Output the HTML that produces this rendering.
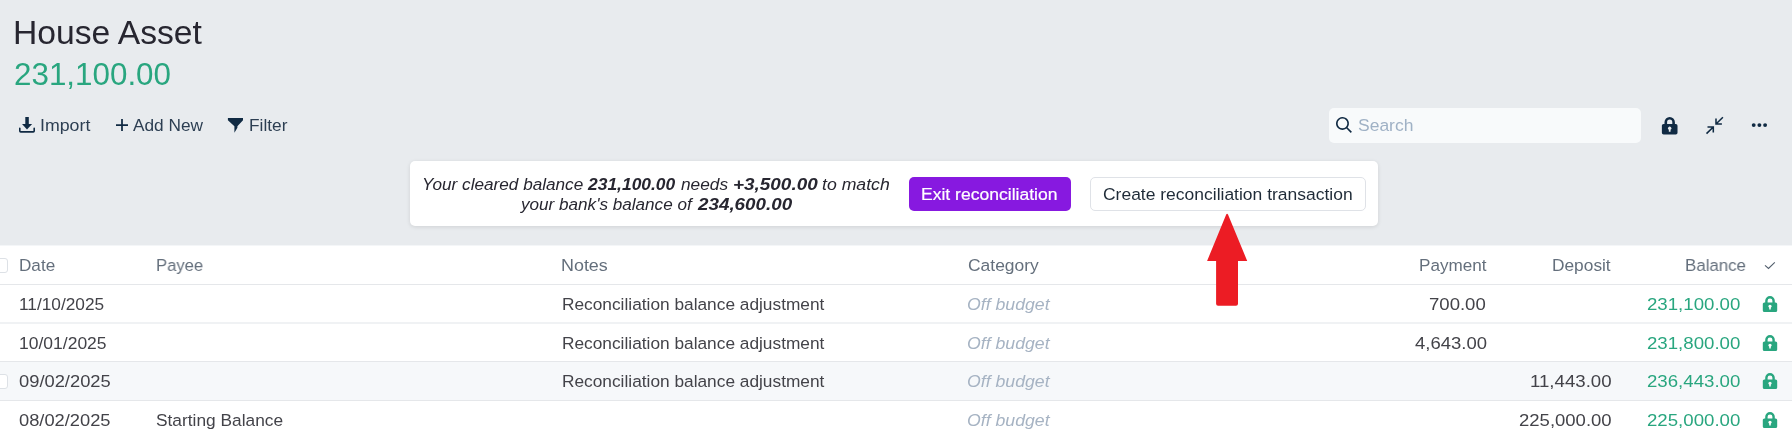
<!DOCTYPE html>
<html><head><meta charset="utf-8"><title>House Asset</title>
<style>
html,body{margin:0;padding:0;}
body{width:1792px;height:439px;overflow:hidden;background:#e8ebee;position:relative;font-family:"Liberation Sans",sans-serif;}
.a{position:absolute;}
.t{position:absolute;white-space:nowrap;transform-origin:0 0;will-change:transform;}
svg{position:absolute;overflow:visible;}
</style></head><body>
<!-- search box -->
<div class="a" style="left:1329px;top:108px;width:312px;height:35px;background:#f8fafb;border-radius:5px;"></div>
<!-- banner -->
<div class="a" style="left:410px;top:161px;width:968px;height:65px;background:#ffffff;border-radius:5px;box-shadow:0 1px 4px rgba(0,0,0,0.11);"></div>
<div class="a" style="left:909px;top:177px;width:162px;height:34px;background:#8719e0;border-radius:5px;"></div>
<div class="a" style="left:1090px;top:177px;width:274px;height:32px;background:#fff;border:1px solid #dfe2e7;border-radius:5px;"></div>
<!-- table -->
<div class="a" style="left:0;top:246px;width:1792px;height:193px;background:#ffffff;"></div>
<div class="a" style="left:0;top:245px;width:1792px;height:1px;background:#f4f6f8;"></div>
<div class="a" style="left:0;top:362px;width:1792px;height:38px;background:#f6f8fa;"></div>
<div class="a" style="left:0;top:284px;width:1792px;height:1px;background:#e5e7ea;"></div>
<div class="a" style="left:0;top:322px;width:1792px;height:2px;background:#f0f2f4;"></div>
<div class="a" style="left:0;top:361px;width:1792px;height:1px;background:#e5e7ea;"></div>
<div class="a" style="left:0;top:400px;width:1792px;height:1px;background:#e5e7ea;"></div>
<!-- checkboxes -->
<div class="a" style="left:-7px;top:258px;width:13px;height:13px;border:1px solid #dde1e6;border-radius:3px;background:#fff;"></div>
<div class="a" style="left:-7px;top:374px;width:13px;height:13px;border:1px solid #dde1e6;border-radius:3px;background:#fff;"></div>

<!-- import icon -->
<svg style="left:19px;top:117px" width="17" height="17" viewBox="0 0 17 17">
  <rect x="6.3" y="0" width="3.5" height="8" fill="#102a43"/>
  <polygon points="3,7 13.1,7 8,12.5" fill="#102a43"/>
  <path d="M0.8,11.3 V14 Q0.8,14.9 1.7,14.9 H14.3 Q15.2,14.9 15.2,14 V11.3" fill="none" stroke="#102a43" stroke-width="1.6" stroke-linecap="round"/>
</svg>
<!-- plus -->
<svg style="left:115px;top:118px" width="14" height="14" viewBox="0 0 14 14">
  <path d="M7,1 V13 M1,7 H13" stroke="#102a43" stroke-width="1.75"/>
</svg>
<!-- filter -->
<svg style="left:222px;top:112px" width="26" height="26" viewBox="0 0 26 26">
  <path d="M5.9,5.9 H21 V8.3 L15.4,14.2 V15.7 L12.4,20.7 V14.2 L5.9,8.3 Z" fill="#102a43"/>
</svg>
<!-- search icon -->
<svg style="left:1335.9px;top:117px" width="16.2" height="16.2" viewBox="0 0 20 20">
  <path d="M12.9 14.32a8 8 0 1 1 1.41-1.41l5.35 5.33-1.42 1.42-5.330-5.34zM8 14A6 6 0 1 0 8 2a6 6 0 0 0 0 12z" fill="#102a43"/>
</svg>
<!-- lock toolbar -->
<svg style="left:1660.9px;top:116.8px" width="17.4" height="17.4" viewBox="0 0 20 20">
  <path d="M4 8V6a6 6 0 1 1 12 0v2h1a2 2 0 0 1 2 2v8a2 2 0 0 1-2 2H3a2 2 0 0 1-2-2v-8c0-1.1.9-2 2-2h1zm5 6.73V17h2v-2.270a2 2 0 1 0-2 0zM7 6v2h6V6a3 3 0 0 0-6 0z" fill="#102a43"/>
</svg>
<!-- shrink icon -->
<svg style="left:1700px;top:110px" width="30" height="30" viewBox="0 0 30 30">
  <path d="M22.9,7.2 L16,14 M16,8.5 V14 H21.9 M6.5,23.6 L13.3,17 M7.5,17 H13.3 V22.6" fill="none" stroke="#102a43" stroke-width="1.55"/>
</svg>
<!-- dots -->
<svg style="left:1745px;top:115px" width="30" height="20" viewBox="0 0 30 20">
  <circle cx="8.7" cy="10.1" r="1.95" fill="#102a43"/><circle cx="14.4" cy="10.1" r="1.95" fill="#102a43"/><circle cx="20.1" cy="10.1" r="1.95" fill="#102a43"/>
</svg>
<!-- header check -->
<svg style="left:1758px;top:255px" width="24" height="22" viewBox="0 0 24 22">
  <path d="M7,10.3 L10.5,13.5 L16.8,7.3" fill="none" stroke="#535f6d" stroke-width="1.1"/>
</svg>
<!-- row locks -->
<svg style="left:1762.2px;top:295.8px" width="16" height="16" viewBox="0 0 20 20"><path d="M4 8V6a6 6 0 1 1 12 0v2h1a2 2 0 0 1 2 2v8a2 2 0 0 1-2 2H3a2 2 0 0 1-2-2v-8c0-1.1.9-2 2-2h1zm5 6.73V17h2v-2.270a2 2 0 1 0-2 0zM7 6v2h6V6a3 3 0 0 0-6 0z" fill="#29a67f"/></svg>
<svg style="left:1762.2px;top:334.5px" width="16" height="16" viewBox="0 0 20 20"><path d="M4 8V6a6 6 0 1 1 12 0v2h1a2 2 0 0 1 2 2v8a2 2 0 0 1-2 2H3a2 2 0 0 1-2-2v-8c0-1.1.9-2 2-2h1zm5 6.73V17h2v-2.270a2 2 0 1 0-2 0zM7 6v2h6V6a3 3 0 0 0-6 0z" fill="#29a67f"/></svg>
<svg style="left:1762.2px;top:373.2px" width="16" height="16" viewBox="0 0 20 20"><path d="M4 8V6a6 6 0 1 1 12 0v2h1a2 2 0 0 1 2 2v8a2 2 0 0 1-2 2H3a2 2 0 0 1-2-2v-8c0-1.1.9-2 2-2h1zm5 6.73V17h2v-2.270a2 2 0 1 0-2 0zM7 6v2h6V6a3 3 0 0 0-6 0z" fill="#29a67f"/></svg>
<svg style="left:1762.2px;top:412px" width="16" height="16" viewBox="0 0 20 20"><path d="M4 8V6a6 6 0 1 1 12 0v2h1a2 2 0 0 1 2 2v8a2 2 0 0 1-2 2H3a2 2 0 0 1-2-2v-8c0-1.1.9-2 2-2h1zm5 6.73V17h2v-2.270a2 2 0 1 0-2 0zM7 6v2h6V6a3 3 0 0 0-6 0z" fill="#29a67f"/></svg>

<div class="t" id="t0" style="left:12.58px;top:14.00px;font-size:32.6px;line-height:37px;color:#272630;font-weight:400;font-style:normal;transform:scaleX(1.0330);">House Asset</div>
<div class="t" id="t1" style="left:14.39px;top:57.00px;font-size:30.8px;line-height:35px;color:#29a67f;font-weight:400;font-style:normal;transform:scaleX(1.0187);">231,100.00</div>
<div class="t" id="t2" style="left:39.92px;top:116.00px;font-size:17.1px;line-height:19px;color:#2c3e52;font-weight:400;font-style:normal;transform:scaleX(1.0386);">Import</div>
<div class="t" id="t3" style="left:132.93px;top:116.00px;font-size:17.1px;line-height:19px;color:#2c3e52;font-weight:400;font-style:normal;transform:scaleX(1.0102);">Add New</div>
<div class="t" id="t4" style="left:248.98px;top:116.00px;font-size:17.1px;line-height:19px;color:#2c3e52;font-weight:400;font-style:normal;transform:scaleX(1.0112);">Filter</div>
<div class="t" id="t5" style="left:1358.09px;top:116.00px;font-size:17.1px;line-height:19px;color:#9fb1c5;font-weight:400;font-style:normal;transform:scaleX(1.0224);">Search</div>
<div class="t" id="t6" style="left:921.18px;top:185.00px;font-size:17.1px;line-height:19px;color:#ffffff;font-weight:400;font-style:normal;transform:scaleX(1.0261);-webkit-text-stroke:0.2px #fff;">Exit reconciliation</div>
<div class="t" id="t7" style="left:1103.13px;top:185.00px;font-size:17.1px;line-height:19px;color:#1f2b38;font-weight:400;font-style:normal;transform:scaleX(1.0222);">Create reconciliation transaction</div>
<div class="t" id="t8" style="left:19.22px;top:256.00px;font-size:17.1px;line-height:19px;color:#646f7c;font-weight:400;font-style:normal;transform:scaleX(1.0018);">Date</div>
<div class="t" id="t9" style="left:155.67px;top:256.00px;font-size:17.1px;line-height:19px;color:#646f7c;font-weight:400;font-style:normal;transform:scaleX(0.9709);">Payee</div>
<div class="t" id="t10" style="left:561.27px;top:256.00px;font-size:17.1px;line-height:19px;color:#646f7c;font-weight:400;font-style:normal;transform:scaleX(1.0476);">Notes</div>
<div class="t" id="t11" style="left:967.56px;top:256.00px;font-size:17.1px;line-height:19px;color:#646f7c;font-weight:400;font-style:normal;transform:scaleX(1.0201);">Category</div>
<div class="t" id="t12" style="left:1418.64px;top:256.00px;font-size:17.1px;line-height:19px;color:#646f7c;font-weight:400;font-style:normal;transform:scaleX(0.9944);">Payment</div>
<div class="t" id="t13" style="left:1551.96px;top:256.00px;font-size:17.1px;line-height:19px;color:#646f7c;font-weight:400;font-style:normal;transform:scaleX(1.0125);">Deposit</div>
<div class="t" id="t14" style="left:1685.45px;top:256.00px;font-size:17.1px;line-height:19px;color:#646f7c;font-weight:400;font-style:normal;transform:scaleX(0.9859);">Balance</div>
<div class="t" id="t15" style="left:18.92px;top:295.00px;font-size:17.1px;line-height:19px;color:#434349;font-weight:400;font-style:normal;transform:scaleX(1.0097);">11/10/2025</div>
<div class="t" id="t16" style="left:18.81px;top:334.00px;font-size:17.1px;line-height:19px;color:#434349;font-weight:400;font-style:normal;transform:scaleX(1.0236);">10/01/2025</div>
<div class="t" id="t17" style="left:19.46px;top:372.00px;font-size:17.1px;line-height:19px;color:#434349;font-weight:400;font-style:normal;transform:scaleX(1.0718);">09/02/2025</div>
<div class="t" id="t18" style="left:19.49px;top:411.00px;font-size:17.1px;line-height:19px;color:#434349;font-weight:400;font-style:normal;transform:scaleX(1.0699);">08/02/2025</div>
<div class="t" id="t19" style="left:562.13px;top:295.00px;font-size:17.1px;line-height:19px;color:#434349;font-weight:400;font-style:normal;transform:scaleX(1.0114);">Reconciliation balance adjustment</div>
<div class="t" id="t20" style="left:562.13px;top:334.00px;font-size:17.1px;line-height:19px;color:#434349;font-weight:400;font-style:normal;transform:scaleX(1.0114);">Reconciliation balance adjustment</div>
<div class="t" id="t21" style="left:562.13px;top:372.00px;font-size:17.1px;line-height:19px;color:#434349;font-weight:400;font-style:normal;transform:scaleX(1.0114);">Reconciliation balance adjustment</div>
<div class="t" id="t22" style="left:156.23px;top:411.00px;font-size:17.1px;line-height:19px;color:#434349;font-weight:400;font-style:normal;transform:scaleX(1.0130);">Starting Balance</div>
<div class="t" id="t23" style="left:966.94px;top:295.00px;font-size:17.1px;line-height:19px;color:#a6b3c3;font-weight:400;font-style:italic;transform:scaleX(1.0342);">Off budget</div>
<div class="t" id="t24" style="left:966.94px;top:334.00px;font-size:17.1px;line-height:19px;color:#a6b3c3;font-weight:400;font-style:italic;transform:scaleX(1.0342);">Off budget</div>
<div class="t" id="t25" style="left:966.94px;top:372.00px;font-size:17.1px;line-height:19px;color:#a6b3c3;font-weight:400;font-style:italic;transform:scaleX(1.0342);">Off budget</div>
<div class="t" id="t26" style="left:966.94px;top:411.00px;font-size:17.1px;line-height:19px;color:#a6b3c3;font-weight:400;font-style:italic;transform:scaleX(1.0342);">Off budget</div>
<div class="t" id="t27" style="left:1429.42px;top:295.00px;font-size:17.1px;line-height:19px;color:#434349;font-weight:400;font-style:normal;transform:scaleX(1.0858);">700.00</div>
<div class="t" id="t28" style="left:1414.63px;top:334.00px;font-size:17.1px;line-height:19px;color:#434349;font-weight:400;font-style:normal;transform:scaleX(1.0813);">4,643.00</div>
<div class="t" id="t29" style="left:1529.62px;top:372.00px;font-size:17.1px;line-height:19px;color:#434349;font-weight:400;font-style:normal;transform:scaleX(1.0910);">11,443.00</div>
<div class="t" id="t30" style="left:1518.53px;top:411.00px;font-size:17.1px;line-height:19px;color:#434349;font-weight:400;font-style:normal;transform:scaleX(1.0829);">225,000.00</div>
<div class="t" id="t31" style="left:1647.29px;top:295.00px;font-size:17.1px;line-height:19px;color:#29a67f;font-weight:400;font-style:normal;transform:scaleX(1.0907);">231,100.00</div>
<div class="t" id="t32" style="left:1647.29px;top:334.00px;font-size:17.1px;line-height:19px;color:#29a67f;font-weight:400;font-style:normal;transform:scaleX(1.0907);">231,800.00</div>
<div class="t" id="t33" style="left:1647.29px;top:372.00px;font-size:17.1px;line-height:19px;color:#29a67f;font-weight:400;font-style:normal;transform:scaleX(1.0907);">236,443.00</div>
<div class="t" id="t34" style="left:1647.29px;top:411.00px;font-size:17.1px;line-height:19px;color:#29a67f;font-weight:400;font-style:normal;transform:scaleX(1.0907);">225,000.00</div>
<div class="t" id="t35" style="left:422.08px;top:175.00px;font-size:17.1px;line-height:19px;color:#272630;font-weight:400;font-style:italic;transform:scaleX(1.0040);">Your cleared balance</div>
<div class="t" id="t36" style="left:588.04px;top:175.00px;font-size:17.1px;line-height:19px;color:#272630;font-weight:700;font-style:italic;transform:scaleX(1.0200);">231,100.00</div>
<div class="t" id="t37" style="left:681.43px;top:175.00px;font-size:17.1px;line-height:19px;color:#272630;font-weight:400;font-style:italic;transform:scaleX(1.0099);">needs</div>
<div class="t" id="t38" style="left:732.76px;top:175.00px;font-size:17.1px;line-height:19px;color:#272630;font-weight:700;font-style:italic;transform:scaleX(1.1068);">+3,500.00</div>
<div class="t" id="t39" style="left:822.04px;top:175.00px;font-size:17.1px;line-height:19px;color:#272630;font-weight:400;font-style:italic;transform:scaleX(1.0340);">to match</div>
<div class="t" id="t40" style="left:521.13px;top:195.00px;font-size:17.1px;line-height:19px;color:#272630;font-weight:400;font-style:italic;transform:scaleX(1.0010);">your bank's balance of</div>
<div class="t" id="t41" style="left:697.69px;top:195.00px;font-size:17.1px;line-height:19px;color:#272630;font-weight:700;font-style:italic;transform:scaleX(1.1008);">234,600.00</div>

<!-- red arrow -->
<svg style="left:1190px;top:205px" width="75" height="110" viewBox="0 0 75 110">
  <path d="M36.2,9.6 Q37.1,8 38,9.6 L57.2,55.9 L48,55.9 L48,98.8 Q48,100.8 46,100.8 L28.1,100.8 Q26.1,100.8 26.1,98.8 L26.1,55.9 L17.1,55.9 Z" fill="#ec1c24"/>
</svg>
</body></html>
